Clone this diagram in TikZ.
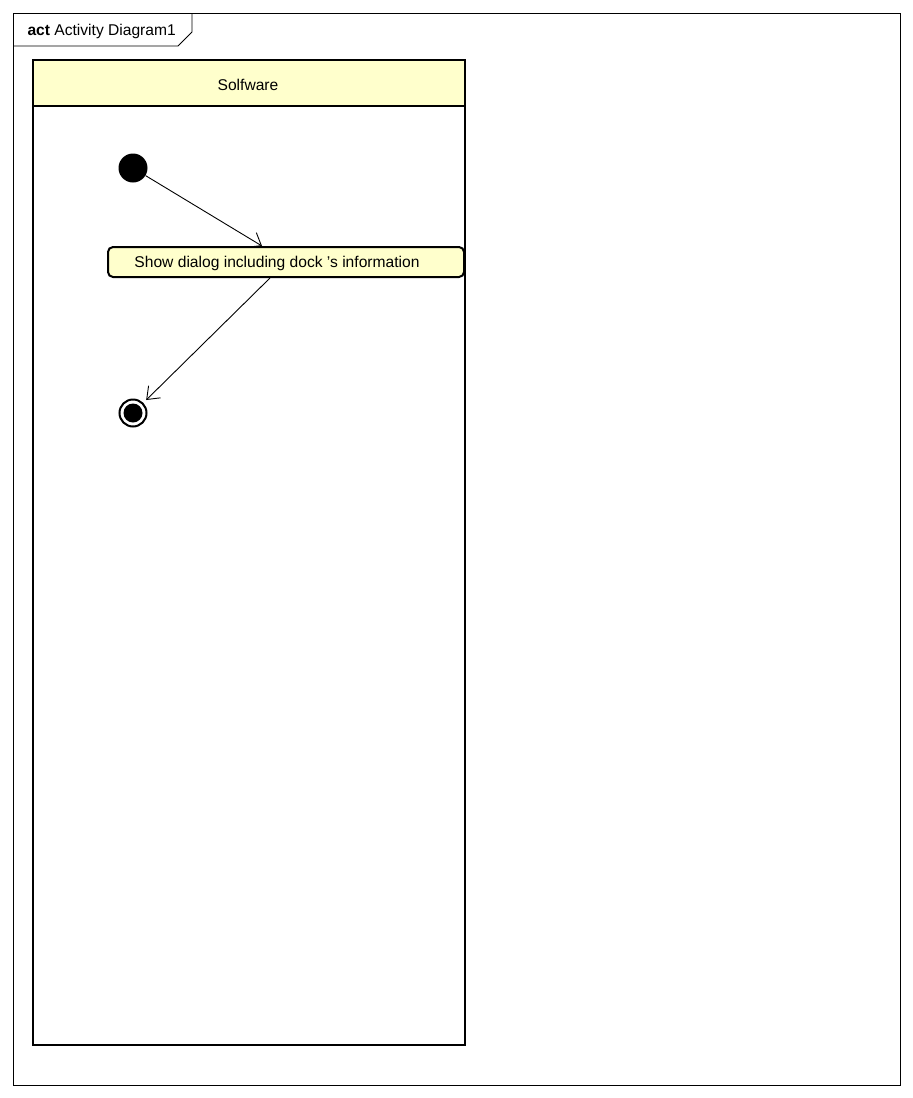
\documentclass[tikz,border=0pt]{standalone}
\usepackage{fontspec}
\setmainfont{Liberation Sans}
\usetikzlibrary{arrows.meta,calc}
\definecolor{laneyellow}{RGB}{255,255,204}
\tikzset{
  px/.style={x=1pt,y=-1pt},
  frameline/.style={draw=black,line width=0.9pt},
  laneline/.style={draw=black,line width=2pt},
  actbox/.style={draw=black,line width=2pt,fill=laneyellow,rounded corners=5pt,
    minimum width=356pt,minimum height=30pt,inner sep=0pt},
  startnode/.style={circle,fill=black,minimum size=29pt,inner sep=0pt},
  endnode/.style={circle,draw=black,line width=2pt,minimum size=27pt,inner sep=0pt,
    path picture={\fill[black] (path picture bounding box.center) circle (9.5pt);}},
  flow/.style={draw=black,line width=0.9pt,-{Straight Barb[length=11pt,width=17pt]}},
  txt/.style={font=\fontsize{15.6pt}{18pt}\selectfont}
}
\begin{document}
\begin{tikzpicture}[px]
\useasboundingbox (0,0) rectangle (913,1098);
\fill[white] (0,0) rectangle (913,1098);
% diagram frame with name tab
\draw[frameline] (13,13) rectangle (900,1085);
\draw[frameline] (13,46) -- (178,46) -- (192,32) -- (192,13);
\node[txt,anchor=west] (title) at (24,31) {\textbf{act} Activity Diagram1};
% swimlane
\fill[laneyellow] (33,60) rectangle (465,106);
\draw[laneline] (33,60) rectangle (465,1045);
\draw[laneline] (33,106) -- (465,106);
\node[txt] (lane) at (248,85) {Solfware};
% activity nodes
\node[startnode] (init) at (133,168) {};
\node[actbox] (act) at (286,262) {};
\node[txt] (actlabel) at (277,263) {Show dialog including dock 's information};
\node[endnode] (final) at (133,413) {};
% control flows
\draw[flow] (init) -- ([xshift=-24pt]act.north);
\draw[flow,shorten >=4pt] ([xshift=-16pt]act.south) -- (final);
\end{tikzpicture}
\end{document}
